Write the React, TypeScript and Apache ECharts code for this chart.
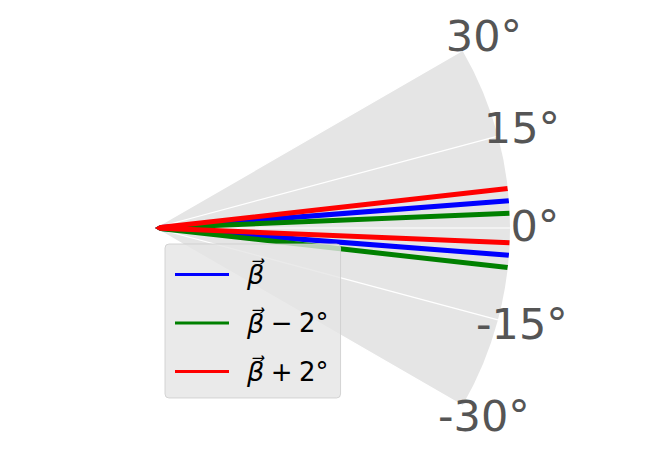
import React, { useEffect, useRef } from "react";
import * as echarts from "echarts";

// Data (angles in degrees; radius from 0 to 1)
const seriesNames = ["β⃗", "β⃗ − 2°", "β⃗ + 2°"];
const seriesColors = ["#0000FF", "#008000", "#FF0000"];
const upperAngles = [4.4, 2.4, 6.4];
const lowerAngles = [-4.4, -6.4, -2.4];
const radiusStart = [0, 0, 0];
const radiusEnd = [1, 1, 1];
const angleTicks = [-30, -15, 0, 15, 30];

const LABEL_R = 1.07;
const FONT = "DejaVu Sans";

export default function App() {
  const ref = useRef<HTMLDivElement>(null);
  useEffect(() => {
    if (!ref.current) return;
    const chart = echarts.init(ref.current, undefined, { renderer: "svg" });
    const aMin = angleTicks[0];
    const aMax = angleTicks[angleTicks.length - 1];
    const background = {
      type: "custom",
      name: "bg",
      coordinateSystem: "polar",
      silent: true,
      z: -1,
      data: [[1, 0]],
      renderItem: (params: any) => {
        const cs = params.coordSys;
        return {
          type: "sector",
          shape: {
            cx: cs.cx,
            cy: cs.cy,
            r0: 0,
            r: cs.r,
            startAngle: (-aMax * Math.PI) / 180,
            endAngle: (-aMin * Math.PI) / 180,
            clockwise: true,
          },
          style: { fill: "#E5E5E5" },
        };
      },
    };
    const lineSeries = seriesNames.map((name, i) => ({
      type: "line",
      name,
      coordinateSystem: "polar",
      symbol: "none",
      clip: false,
      lineStyle: { color: seriesColors[i], width: 5 },
      itemStyle: { color: seriesColors[i] },
      data: [
        [radiusEnd[i], upperAngles[i]],
        [radiusStart[i], 0],
        [radiusEnd[i], lowerAngles[i]],
      ],
      z: 3,
    }));
    const labelSeries = {
      type: "scatter",
      name: "ticks",
      coordinateSystem: "polar",
      symbolSize: 0,
      clip: false,
      silent: true,
      itemStyle: { opacity: 1 },
      data: angleTicks.map((t) => [LABEL_R, t]),
      label: {
        show: true,
        position: "inside",
        offset: [0, -2],
        formatter: (p: any) => `${p.value[1]}°`,
        fontSize: 43,
        fontFamily: FONT,
        color: "#555555",
        opacity: 1,
      },
      z: 2,
    };
    chart.setOption({
      animation: false,
      backgroundColor: "#ffffff",
      polar: { center: [155, 228], radius: [0, 355] },
      angleAxis: {
        type: "value",
        min: aMin,
        max: aMax,
        interval: 15,
        startAngle: aMin,
        endAngle: aMax,
        clockwise: false,
        axisLine: { show: false },
        axisTick: { show: false },
        axisLabel: { show: false },
        splitLine: { show: true, lineStyle: { color: "#ffffff", width: 1.2 } },
        splitArea: { show: false },
      },
      radiusAxis: {
        type: "value",
        min: 0,
        max: 1,
        axisLine: { show: false },
        axisTick: { show: false },
        axisLabel: { show: false },
        splitLine: { show: false },
        splitArea: { show: false },
      },
      legend: {
        data: seriesNames,
        orient: "vertical",
        left: 165,
        top: 244,
        padding: [17, 12, 13, 10],
        itemWidth: 54,
        itemHeight: 3,
        itemGap: 21.5,
        icon: "rect",
        backgroundColor: "rgba(229,229,229,0.8)",
        borderColor: "rgba(204,204,204,0.8)",
        borderWidth: 1,
        borderRadius: 4,
        formatter: (name: string) =>
          `{b|${name.slice(0, 2)}}{t|${name.slice(2).replace(/ /g, "\u2005")}}`,
        textStyle: {
          fontFamily: FONT,
          fontSize: 26,
          color: "#000",
          rich: {
            b: { fontFamily: FONT, fontStyle: "italic", fontSize: 27, padding: [0, 0, 0, 13], color: "#000" },
            t: { fontFamily: FONT, fontSize: 26, color: "#000" },
          },
        },
      },
      series: [background, ...lineSeries, labelSeries],
    });
    return () => chart.dispose();
  }, []);
  return (
    <div
      ref={ref}
      style={{ position: "absolute", left: 0, top: 0, width: 664, height: 457 }}
    />
  );
}
